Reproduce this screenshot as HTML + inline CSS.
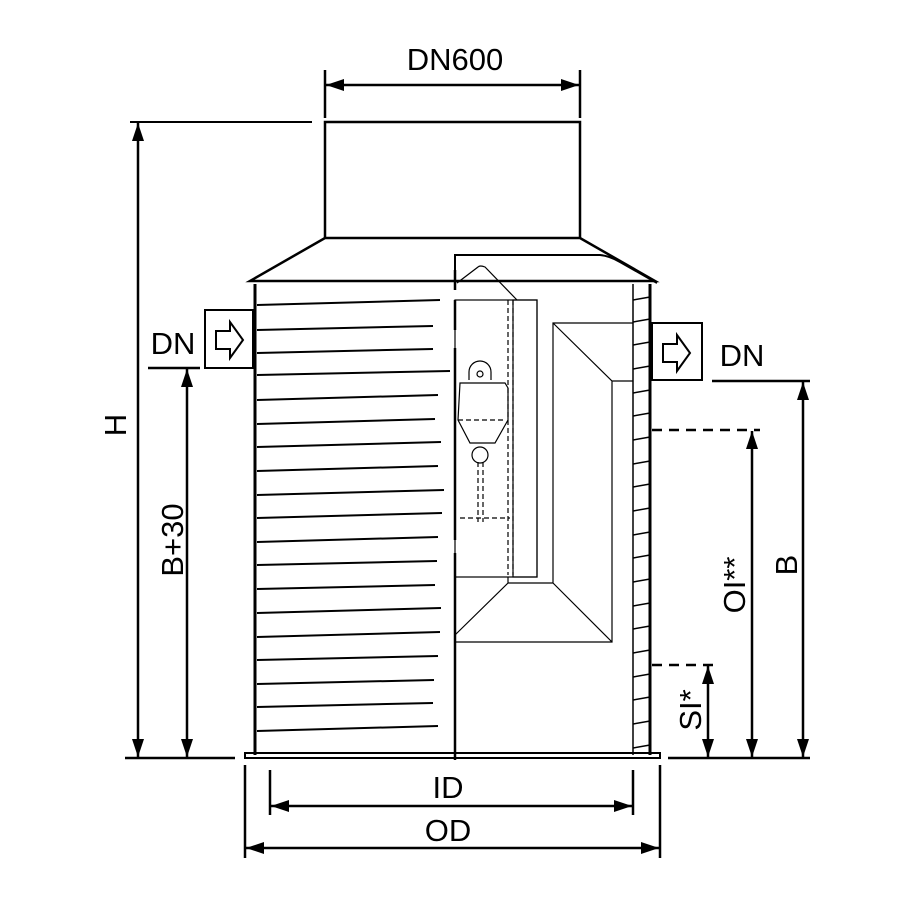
<!DOCTYPE html><html><head><style>body{margin:0;background:#fff}svg{display:block}text{font-family:"Liberation Sans",sans-serif;fill:#000}</style></head><body>
<svg width="924" height="900" viewBox="0 0 924 900" xmlns="http://www.w3.org/2000/svg">
<defs><marker id="a" viewBox="0 0 18 12" refX="18" refY="6" markerWidth="18" markerHeight="12" markerUnits="userSpaceOnUse" orient="auto-start-reverse"><path d="M0,0 L18,6 L0,12z" fill="#000"/></marker></defs>
<g stroke="#000" fill="none">
<path d="M325,238 V122 H580 V238" stroke-width="2.5"/>
<path d="M325,238 H580 L655,281 H250 Z" stroke-width="2.5"/>
<line x1="130" y1="122" x2="312" y2="122" stroke-width="2"/>
<line x1="255" y1="284" x2="255" y2="755" stroke-width="3"/>
<line x1="650" y1="284" x2="650" y2="755" stroke-width="3"/>
<line x1="633" y1="284" x2="633" y2="755" stroke-width="1.5"/>
<rect x="245" y="753" width="415" height="5" stroke-width="2"/>
<path d="M455,283 V255 H600 Q610,256 620,262 L657,283" stroke-width="2"/>
<path d="M455,300 V330 M455,348 V540 M455,553 V760 M455,270 V290" stroke-width="2.5"/>
<g stroke-width="2">
<line x1="257" y1="305" x2="440" y2="300"/><line x1="257" y1="330" x2="433" y2="326"/><line x1="257" y1="353" x2="433" y2="349"/><line x1="257" y1="375" x2="450" y2="371"/><line x1="257" y1="400" x2="438" y2="395"/><line x1="257" y1="424" x2="435" y2="419"/><line x1="257" y1="447" x2="441" y2="442"/><line x1="257" y1="471" x2="438" y2="466"/><line x1="257" y1="495" x2="444" y2="490"/><line x1="257" y1="518" x2="442" y2="513"/><line x1="257" y1="542" x2="438" y2="537"/><line x1="257" y1="565" x2="437" y2="561"/><line x1="257" y1="589" x2="435" y2="585"/><line x1="257" y1="613" x2="441" y2="608"/><line x1="257" y1="637" x2="440" y2="632"/><line x1="257" y1="660" x2="438" y2="656"/><line x1="257" y1="684" x2="434" y2="680"/><line x1="257" y1="707" x2="433" y2="703"/><line x1="257" y1="731" x2="438" y2="726"/>
</g>
<g stroke-width="1.2">
<path d="M457,283 L478,267 Q480,265 485,267 L517,300"/>
<rect x="455" y="300" width="82" height="277"/>
<rect x="513" y="300" width="24" height="277"/>
<line x1="508" y1="300" x2="508" y2="575" stroke-dasharray="5,3"/>
<line x1="513" y1="300" x2="513" y2="575" stroke-dasharray="5,3"/>
<path d="M460,383 H505 L508,388 V420 L495,443 H470 L458,420 Z"/>
<line x1="458" y1="420" x2="505" y2="420" stroke-dasharray="5,3"/>
<path d="M469,380 V372 A11,11 0 0 1 491,372 V380"/><circle cx="480" cy="374" r="3"/>
<circle cx="480" cy="455" r="8"/>
<line x1="478" y1="462" x2="478" y2="522" stroke-dasharray="5,3"/><line x1="483" y1="462" x2="483" y2="522" stroke-dasharray="5,3"/>
<line x1="460" y1="518" x2="510" y2="518" stroke-dasharray="5,3"/>
<path d="M553,583 V323 H633 M553,323 L612,381 H633 M612,381 V642 H455 M508,583 H553 M553,583 L612,642 M508,577 V583 L455,635"/>
</g>
<g stroke-width="1.5">
<path d="M633,300 L650,297 M633,322 L650,319 M633,345 L650,342 M633,369 L650,366 M633,393 L650,390 M633,416 L650,413 M633,440 L650,437 M633,464 L650,461 M633,487 L650,484 M633,511 L650,508 M633,535 L650,532 M633,558 L650,555 M633,582 L650,579 M633,606 L650,603 M633,629 L650,626 M633,653 L650,650 M633,677 L650,674 M633,700 L650,697 M633,724 L650,721 M633,748 L650,745"/>
</g>
<rect x="205" y="310" width="48" height="58" stroke-width="2"/>
<path d="M216,331 H230 V322 L243,340 L230,358 V349 H216 Z" stroke-width="2"/>
<rect x="652" y="323" width="50" height="57" stroke-width="2"/>
<path d="M663,344 H677 V335 L690,353 L677,371 V362 H663 Z" stroke-width="2"/>
<g stroke-width="2.5">
<line x1="325" y1="70" x2="325" y2="118"/><line x1="580" y1="70" x2="580" y2="118"/>
<line x1="326" y1="85" x2="579" y2="85" marker-start="url(#a)" marker-end="url(#a)"/>
<line x1="138" y1="123" x2="138" y2="757" marker-start="url(#a)" marker-end="url(#a)"/>
<line x1="148" y1="368" x2="200" y2="368"/>
<line x1="187" y1="369" x2="187" y2="757" marker-start="url(#a)" marker-end="url(#a)"/>
<line x1="125" y1="758" x2="235" y2="758"/>
<line x1="712" y1="381" x2="810" y2="381"/>
<line x1="803" y1="382" x2="803" y2="757" marker-start="url(#a)" marker-end="url(#a)"/>
<line x1="652" y1="430" x2="760" y2="430" stroke-dasharray="10,7"/>
<line x1="752" y1="431" x2="752" y2="757" marker-start="url(#a)" marker-end="url(#a)"/>
<line x1="652" y1="665" x2="715" y2="665" stroke-dasharray="10,7"/>
<line x1="708" y1="666" x2="708" y2="757" marker-start="url(#a)" marker-end="url(#a)"/>
<line x1="668" y1="758" x2="810" y2="758"/>
<line x1="270" y1="770" x2="270" y2="815"/><line x1="633" y1="770" x2="633" y2="815"/>
<line x1="271" y1="806" x2="632" y2="806" marker-start="url(#a)" marker-end="url(#a)"/>
<line x1="245" y1="765" x2="245" y2="858"/><line x1="660" y1="765" x2="660" y2="858"/>
<line x1="246" y1="848" x2="659" y2="848" marker-start="url(#a)" marker-end="url(#a)"/>
</g>
</g>
<g font-size="31">
<text x="455" y="70" text-anchor="middle">DN600</text>
<text x="173" y="354" text-anchor="middle">DN</text>
<text x="742" y="366" text-anchor="middle">DN</text>
<text x="448" y="798" text-anchor="middle">ID</text>
<text x="448" y="841" text-anchor="middle">OD</text>
<text transform="translate(126,425) rotate(-90)" text-anchor="middle">H</text>
<text transform="translate(183,540) rotate(-90)" text-anchor="middle">B+30</text>
<text transform="translate(797,565) rotate(-90)" text-anchor="middle">B</text>
<text transform="translate(745,585) rotate(-90)" text-anchor="middle">OI**</text>
<text transform="translate(701,710) rotate(-90)" text-anchor="middle">SI*</text>
</g>
</svg></body></html>
